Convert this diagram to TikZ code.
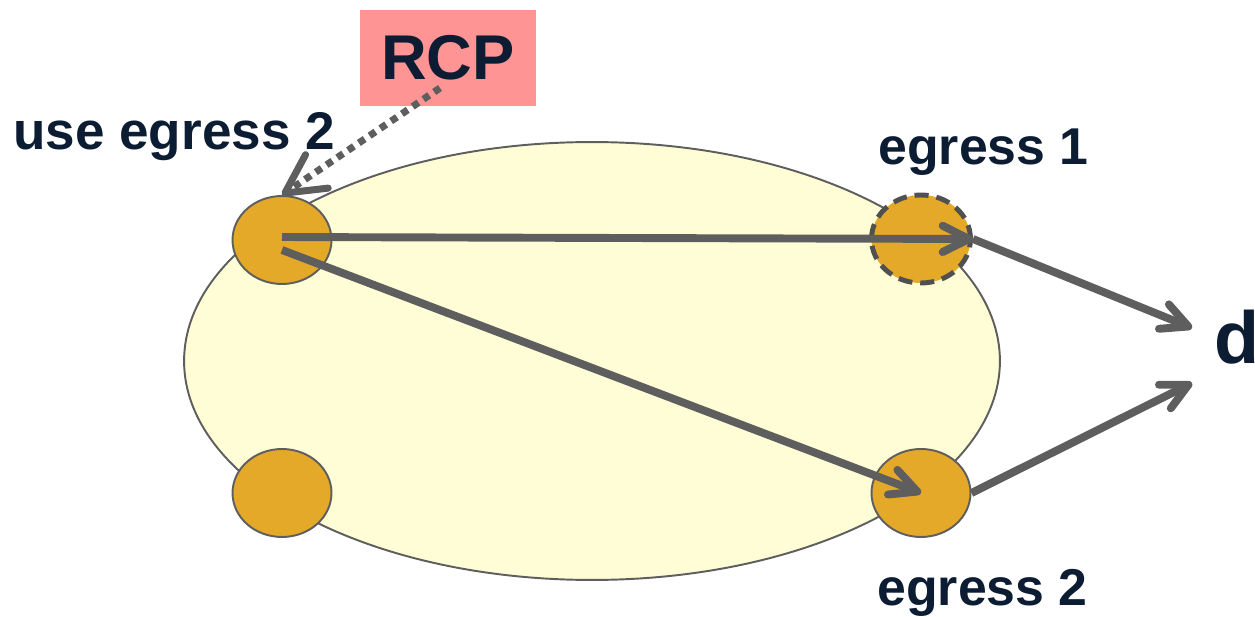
\documentclass[tikz,border=0pt]{standalone}
\usepackage{fontspec}
\setmainfont{Liberation Sans}
\usetikzlibrary{arrows.meta, shapes.geometric}
\definecolor{domfill}{HTML}{FFFDD6}
\definecolor{rtrfill}{HTML}{E5A92A}
\definecolor{linegray}{HTML}{5E5E5E}
\definecolor{labelnavy}{HTML}{0B1C33}
\definecolor{rcpfill}{HTML}{FF9494}

\begin{document}
\begin{tikzpicture}[x=0.02cm, y=0.02cm,
    router/.style={ellipse, draw=linegray, line width=1.1pt, fill=rtrfill,
      minimum width=1.98cm, minimum height=1.76cm, inner sep=0pt},
    lbl/.style={font=\bfseries\fontsize{29.5}{30}\selectfont, text=labelnavy,
      inner sep=0pt, anchor=base west},
    flow/.style={draw=linegray, line width=4.5pt,
      -{Straight Barb[length=15pt,width=15pt,round]}}]
    \useasboundingbox (0,0) rectangle (1255,616);
    % the domain
    \node[ellipse, draw=linegray, line width=1.1pt, fill=domfill,
      minimum width=16.32cm, minimum height=8.76cm] (dom) at (592,255) {};
    % routers
    \node[router] (u) at (282,376) {};
    \node[router] (l) at (282,123) {};
    \node[router, draw=linegray!85!black, line width=2.8pt,
      dash pattern=on 8pt off 4.5pt] (e1) at (921,377) {};
    \node[router] (e2) at (921,123) {};
    % labels
    \node[lbl, font=\bfseries\fontsize{30.2}{32}\selectfont] (ulbl) at (13,466) {use egress 2};
    \node[lbl] (e1lbl) at (878,451) {egress 1};
    \node[lbl] (e2lbl) at (877,11) {egress 2};
    \node[lbl, font=\bfseries\fontsize{42}{44}\selectfont] (d) at (1214,253) {d};
    \node[fill=rcpfill, minimum width=3.52cm, minimum height=1.92cm, inner sep=0pt,
      font=\bfseries\fontsize{36}{38}\selectfont, text=labelnavy] (rcp) at (448,558) {RCP};
    \coordinate (rcpfoot) at (440,528);
    \coordinate (dIn1) at (1192,288);
    \coordinate (dIn2) at (1192,233);
    % traffic
    \draw[flow] ([yshift=1.7pt]u.center) -- (e1.east);
    \draw[flow] ([yshift=-5.7pt]u.center) -- (e2.center);
    \draw[flow] (e1.east) -- (dIn1);
    \draw[flow] (e2.east) -- (dIn2);
    % RCP tells the router
    \draw[linegray, line width=4pt, dash pattern=on 4pt off 3.4pt,
      -{Straight Barb[length=22pt,width=23pt,round]}] (rcpfoot) -- (u.north);
\end{tikzpicture}
\end{document}
